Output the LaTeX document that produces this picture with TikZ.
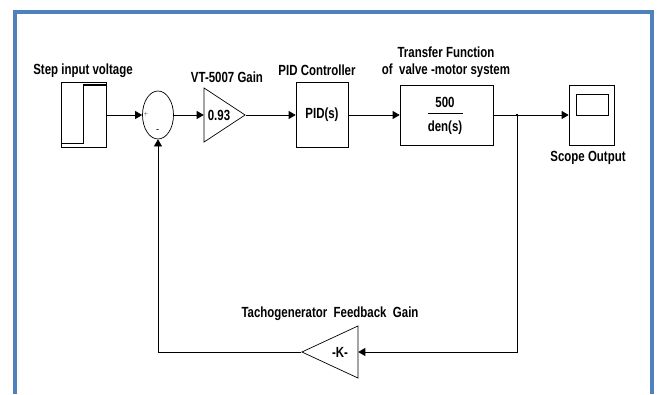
\documentclass[tikz,border=0pt]{standalone}
\usepackage{fontspec}
\usepackage{xcolor}
\usepackage{tikz}
\usetikzlibrary{shapes.geometric,arrows.meta}
\newfontfamily\blockfont{Liberation Sans}[FakeStretch=0.78]
\definecolor{frameblue}{RGB}{79,129,189}

\begin{document}
\begin{tikzpicture}[x=1pt,y=-1pt,
		blk/.style={draw,line width=0.7pt,inner sep=0pt},
		lbl/.style={font=\blockfont\bfseries\fontsize{14.7}{16.5}\selectfont,inner sep=0pt},
		sig/.style={line width=0.7pt,-{Triangle[length=7pt,width=8pt]}},
		gainblk/.style={draw,line width=0.7pt,isosceles triangle,isosceles triangle stretches,inner sep=0pt}]
		\useasboundingbox (0,0) rectangle (659,394);
		\draw[frameblue,line width=4pt] (15,394) -- (15,12) -- (652,12) -- (652,394);
		\node[blk,minimum width=45,minimum height=65] (step) at (84,115) {};
		\draw[line width=0.7pt] (62,143) -- (83,143) -- (83,85);
		\draw[line width=1.4pt] (83,85) -- (106,85);
		\node[blk,ellipse,minimum width=31,minimum height=48] (sum) at (158,115) {};
		\node[font=\tiny,inner sep=0pt] (plus) at (146,114) {+};
		\node[font=\scriptsize\bfseries,inner sep=0pt] (minus) at (158,131) {-};
		\node[gainblk,minimum width=54,minimum height=41,anchor=apex] (vt) at (246,115) {};
		\node[lbl] (vtval) at (219,115) {0.93};
		\node[blk,minimum width=52,minimum height=65] (pid) at (322,115) {};
		\node[lbl] (pidval) at (322,115) {PID(s)};
		\node[blk,minimum width=93,minimum height=60] (tf) at (446.5,115) {};
		\node[lbl] (num) at (445,102) {500};
		\node[lbl] (den) at (445,128) {den(s)};
		\draw[line width=0.7pt] (428,113) -- (463,113);
		\node[blk,minimum width=45,minimum height=60] (scope) at (591.5,115) {};
		\draw[line width=0.7pt] (576,94) rectangle (608,115);
		\node[gainblk,shape border rotate=180,minimum width=52,minimum height=56,anchor=apex] (fb) at (301,352) {};
		\node[lbl] (fbval) at (340,352) {-K-};
		\coordinate (br) at (517,115);
		\node[lbl] (steplbl) at (83,71) {Step input voltage};
		\node[lbl] (vtlbl) at (227,77) {VT-5007 Gain};
		\node[lbl] (pidlbl) at (317,70) {PID Controller};
		\node[lbl,align=center] (tflbl) at (446,62) {Transfer Function\\of\ \ valve -motor system};
		\node[lbl] (scopelbl) at (588,158) {Scope Output};
		\node[lbl] (fblbl) at (330,314) {Tachogenerator\ \ Feedback\ \ Gain};
		\draw[sig] (step) -- (sum);
		\draw[sig] (sum) -- (vt.west);
		\draw[sig] (vt.apex) -- (pid);
		\draw[sig] (pid) -- (tf);
		\draw[sig] (tf) -- (scope);
		\fill (br) ++(-1.2,-1.2) rectangle ++(2.4,2.4);
		\draw[sig] (br) |- (fb.east);
		\draw[sig] (fb.apex) -| (sum.south);
	\end{tikzpicture}
\end{document}
